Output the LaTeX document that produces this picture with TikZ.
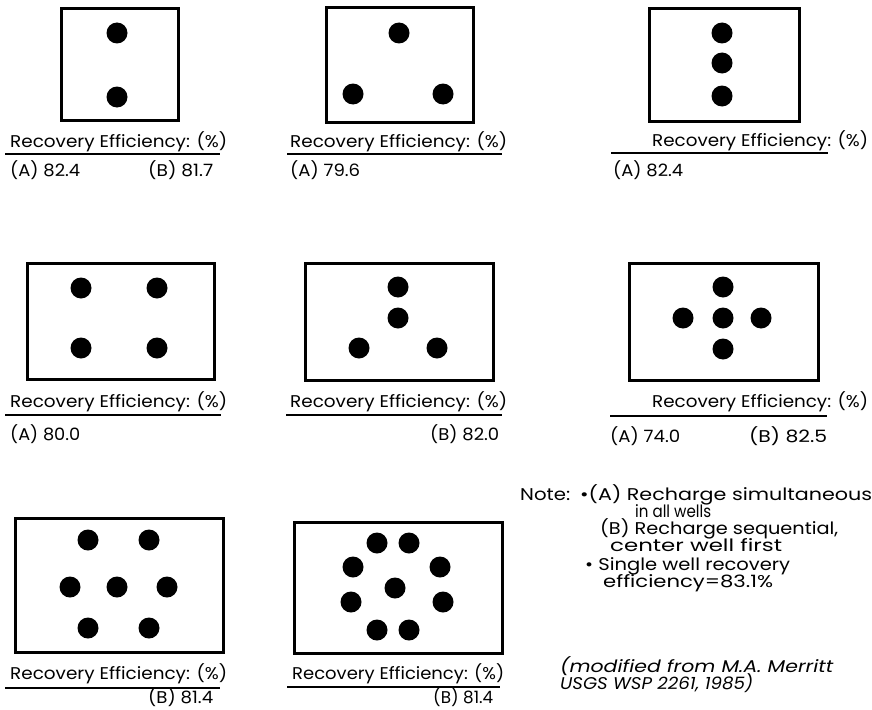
\documentclass[tikz,border=0pt]{standalone}
\usepackage{fontspec}
\setmainfont{Poppins}
\usepackage{graphicx}
\newlength\fitlen
\newcommand\fitw[2]{\settowidth\fitlen{#2}\pgfmathsetmacro\fitfac{#1/\fitlen}\scalebox{\fitfac}[1]{#2}}
\tikzset{
  wellbox/.style={draw, line width=2.6pt, anchor=north west, inner sep=0pt},
  well/.style={circle, fill=black, minimum size=21pt, inner sep=0pt},
  lbl/.style={anchor=base west, inner sep=0pt, font=\fontsize{17}{19}\selectfont},
  itl/.style={lbl, font=\fontsize{17}{19}\selectfont\itshape},
  rule/.style={line width=1.6pt},
}
\begin{document}
\begin{tikzpicture}[x=1pt,y=-1pt]
\useasboundingbox (0,0) rectangle (872,709);
% ---------- panel 1
\node[wellbox, minimum width=117pt, minimum height=112pt] (b1) at (60,7) {};
\node[well] (w11) at (117,33) {};
\node[well] (w12) at (117,97) {};
\node[lbl] (t1) at (10,147) {\fitw{217}{Recovery Efficiency: (\%)}};
\coordinate (u1a) at (5,154); \coordinate (u1b) at (220,154);
\draw[rule] (u1a) -- (u1b);
\node[lbl] (a1) at (10,176) {\fitw{70}{(A) 82.4}};
\node[lbl] (c1) at (148,176) {\fitw{65}{(B) 81.7}};
% ---------- panel 2
\node[wellbox, minimum width=147pt, minimum height=115pt] (b2) at (325,6) {};
\node[well] (w21) at (399,33) {};
\node[well] (w22) at (353,94) {};
\node[well] (w23) at (443,94) {};
\node[lbl] (t2) at (290,147) {\fitw{217}{Recovery Efficiency: (\%)}};
\coordinate (u2a) at (287,154); \coordinate (u2b) at (502,154);
\draw[rule] (u2a) -- (u2b);
\node[lbl] (a2) at (290,176) {\fitw{70}{(A) 79.6}};
% ---------- panel 3
\node[wellbox, minimum width=150pt, minimum height=113pt] (b3) at (648,7) {};
\node[well] (w31) at (722,33) {};
\node[well] (w32) at (722,63) {};
\node[well] (w33) at (722,96) {};
\node[lbl] (t3) at (652,146) {\fitw{216}{Recovery Efficiency: (\%)}};
\coordinate (u3a) at (611,153); \coordinate (u3b) at (828,153);
\draw[rule] (u3a) -- (u3b);
\node[lbl] (a3) at (613,176) {\fitw{70}{(A) 82.4}};
% ---------- panel 4
\node[wellbox, minimum width=187pt, minimum height=116pt] (b4) at (26,262) {};
\node[well] (w41) at (81,288) {};
\node[well] (w42) at (157,288) {};
\node[well] (w43) at (81,348) {};
\node[well] (w44) at (157,348) {};
\node[lbl] (t4) at (10,407) {\fitw{217}{Recovery Efficiency: (\%)}};
\coordinate (u4a) at (5,415); \coordinate (u4b) at (221,415);
\draw[rule] (u4a) -- (u4b);
\node[lbl] (a4) at (10,440) {\fitw{70}{(A) 80.0}};
% ---------- panel 5
\node[wellbox, minimum width=188pt, minimum height=117pt] (b5) at (304,262) {};
\node[well] (w51) at (398,287) {};
\node[well] (w52) at (398,318) {};
\node[well] (w53) at (359,348) {};
\node[well] (w54) at (437,348) {};
\node[lbl] (t5) at (290,407) {\fitw{217}{Recovery Efficiency: (\%)}};
\coordinate (u5a) at (286,415); \coordinate (u5b) at (502,415);
\draw[rule] (u5a) -- (u5b);
\node[lbl] (c5) at (430,440) {\fitw{69}{(B) 82.0}};
% ---------- panel 6
\node[wellbox, minimum width=189pt, minimum height=117pt] (b6) at (628,262) {};
\node[well] (w61) at (723,287) {};
\node[well] (w62) at (683,318) {};
\node[well] (w63) at (723,318) {};
\node[well] (w64) at (761,318) {};
\node[well] (w65) at (723,349) {};
\node[lbl] (t6) at (652,407) {\fitw{216}{Recovery Efficiency: (\%)}};
\coordinate (u6a) at (610,416); \coordinate (u6b) at (827,416);
\draw[rule] (u6a) -- (u6b);
\node[lbl] (a6) at (610,442) {\fitw{70}{(A) 74.0}};
\node[lbl] (c6) at (749,442) {\fitw{78}{(B) 82.5}};
% ---------- panel 7
\node[wellbox, minimum width=208pt, minimum height=134pt] (b7) at (14,517) {};
\node[well] (w71) at (88,540) {};
\node[well] (w72) at (149,540) {};
\node[well] (w73) at (70,587) {};
\node[well] (w74) at (117,587) {};
\node[well] (w75) at (167,587) {};
\node[well] (w76) at (88,628) {};
\node[well] (w77) at (149,628) {};
\node[lbl] (t7) at (10,679) {\fitw{217}{Recovery Efficiency: (\%)}};
\coordinate (u7a) at (5,688); \coordinate (u7b) at (220,688);
\draw[rule] (u7a) -- (u7b);
\node[lbl] (c7) at (148,703) {\fitw{65}{(B) 81.4}};
% ---------- panel 8
\node[wellbox, minimum width=208pt, minimum height=131pt] (b8) at (293,521) {};
\node[well] (w81) at (377,543) {};
\node[well] (w82) at (409,543) {};
\node[well] (w83) at (353,567) {};
\node[well] (w84) at (440,567) {};
\node[well] (w85) at (395,588) {};
\node[well] (w86) at (351,602) {};
\node[well] (w87) at (443,602) {};
\node[well] (w88) at (377,630) {};
\node[well] (w89) at (409,630) {};
\node[lbl] (t8) at (292,679) {\fitw{212}{Recovery Efficiency: (\%)}};
\coordinate (u8a) at (287,687); \coordinate (u8b) at (500,687);
\draw[rule] (u8a) -- (u8b);
\node[lbl] (c8) at (433,703) {\fitw{60}{(B) 81.4}};
% ---------- note
\node[lbl] (n0) at (520,500) {\fitw{50}{Note:}};
\node[lbl] (n1) at (580,500) {\fitw{292}{\textbullet(A) Recharge simultaneous}};
\node[lbl] (n2) at (635,517) {\fitw{76}{in all wells}};
\node[lbl] (n3) at (600,534) {\fitw{238}{(B) Recharge sequential,}};
\node[lbl] (n4) at (610,551) {\fitw{172}{center well first}};
\node[lbl] (n5) at (585,570) {\fitw{205}{\textbullet\ Single well recovery}};
\node[lbl] (n6) at (603,587) {\fitw{170}{efficiency=83.1\%}};
\node[itl] (m1) at (560,672) {\fitw{273}{(modified from M.A. Merritt}};
\node[itl] (m2) at (560,689) {\fitw{193}{USGS WSP 2261, 1985)}};
\end{tikzpicture}
\end{document}
